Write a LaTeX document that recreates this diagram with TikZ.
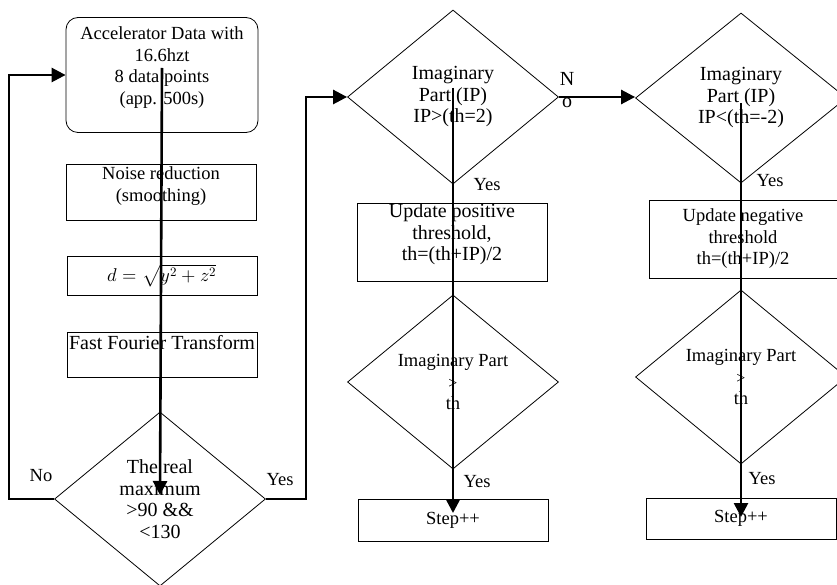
\documentclass[tikz,border=0pt]{standalone}
\usepackage{fontspec}
\usepackage{unicode-math}
\setmainfont{Liberation Serif}
\setmathfont{Latin Modern Math}
\usepackage{tikz}
\usetikzlibrary{shapes.geometric, arrows.meta}

\begin{document}
\begin{tikzpicture}[x=1pt, y=-1pt, font=\fontsize{18.5}{21.5}\selectfont,
		line width=2.6pt, >={Triangle[length=14pt, width=14pt]},
		box/.style={draw, line width=0.8pt, rectangle, minimum width=190pt, inner sep=0pt, align=center},
		decision/.style={draw, line width=0.8pt, diamond, aspect=1.2, minimum width=211pt, minimum height=174pt, inner sep=0pt, align=center},
		cam/.style={font=\fontsize{20}{21.5}\selectfont}]
		\clip (0,0) rectangle (837,585);
		\node (data)  [box, rounded corners=12pt, minimum width=192pt, minimum height=115pt] at (162,75) {Accelerator Data with\\16.6hzt\\8 data points\\(app. 500s)\\[-3pt]~};
		\node (noise) [box, minimum height=56pt] at (161,192) {Noise reduction\\(smoothing)\\[-6pt]~};
		\node (dist)  [box, minimum height=39pt] at (162,275.5) {$d=\sqrt{y^2+z^2}$};
		\node (fft)   [box, cam, minimum height=45pt] at (162,354.5) {Fast Fourier Transform\\[2pt]~};
		\node (check) [decision, cam] at (160,499) {The real\\maximum\\>90 \&\&\\<130};
		\node (ipos)  [decision, cam] at (453,97) {Imaginary\\Part (IP)\\IP>(th=2)};
		\node (upos)  [box, cam, minimum height=75pt] at (452,242.5) {Update positive\\threshold,\\th=(th+IP)/2\\[-1pt]~};
		\node (gpos)  [decision] at (453,382) {Imaginary Part\\{\fontsize{16}{21.5}\selectfont >}\\th};
		\node (stepA) [box, minimum height=42pt] at (453,520) {Step++};
		\node (ineg)  [decision, cam, minimum height=170pt] at (741,98) {Imaginary\\Part (IP)\\IP<(th=-2)};
		\node (uneg)  [box, minimum width=188pt, minimum height=78pt] at (743,239) {Update negative\\threshold\\th=(th+IP)/2};
		\node (gneg)  [decision] at (741,377) {Imaginary Part\\{\fontsize{16}{21.5}\selectfont >}\\th};
		\node (stepB) [box, minimum height=41pt] at (741,518.5) {Step++};
		\node (noA)  at (41,476) {No};
		\node (yesA) at (280,480) {Yes};
		\node (noB)  [cam, align=center] at (567,90) {N\\o};
		\node (yesB) at (487,185) {Yes};
		\node (yesC) at (477,482) {Yes};
		\node (yesD) at (770,181) {Yes};
		\node (yesE) at (762,479) {Yes};
		\draw[->] (check.west) -- ++(-45,0) |- (data.west);
		\draw[->] (check.east) -- ++(40,0) |- (ipos.west);
		\draw[->] (ipos.east) -- (ipos.east -| ineg.west);
		\draw[->] ([yshift=7pt]data.center) -- ([yshift=4pt]check.center);
		\draw[->] ([yshift=9pt]ipos.center) -- ([yshift=7pt]stepA.center);
		\draw[->] ([yshift=-5pt]ineg.center) -- ([yshift=1.5pt]stepB.center);
\end{tikzpicture}
\end{document}
